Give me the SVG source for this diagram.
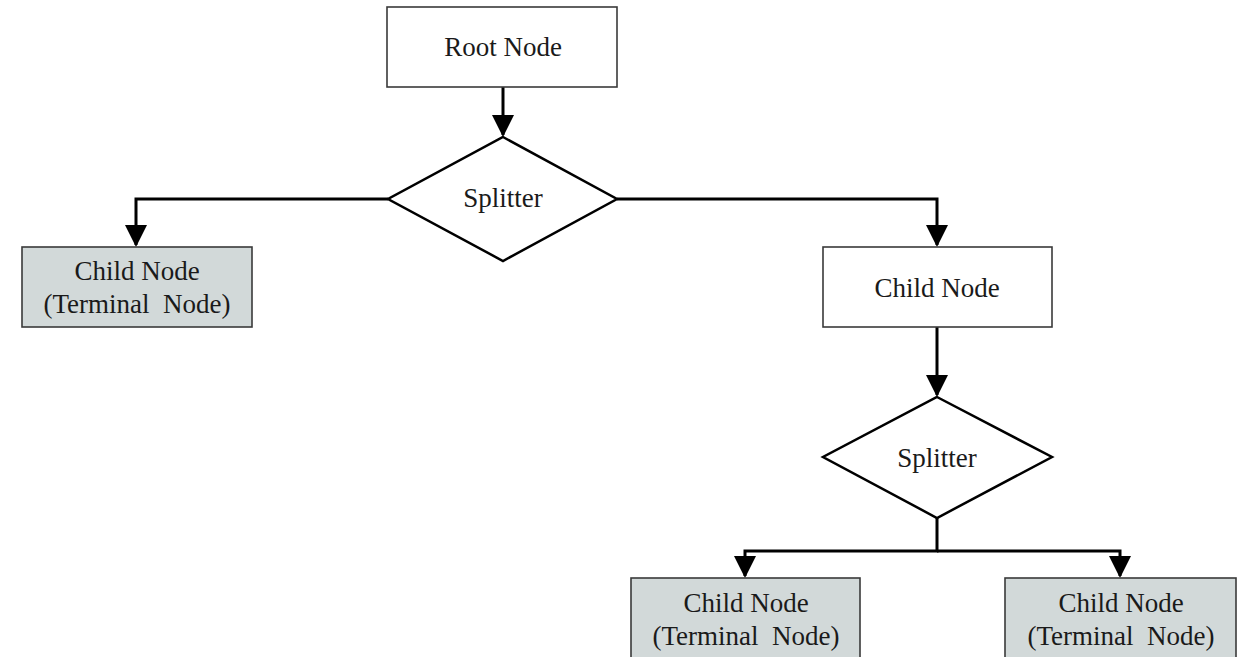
<svg xmlns="http://www.w3.org/2000/svg" width="1243" height="657" viewBox="0 0 1243 657">
<style>
.box{fill:#ffffff;stroke:#3a3a3a;stroke-width:1.6}
.term{fill:#d2d9d9;stroke:#3a3a3a;stroke-width:1.6}
.dia{fill:#ffffff;stroke:#000;stroke-width:2.5;stroke-linejoin:miter}
.lbl{font-family:"Liberation Serif","Times New Roman",serif;font-size:27px;fill:#1a1a1a;text-anchor:middle;white-space:pre}
.conn{fill:none;stroke:#000;stroke-width:3}
</style>
<defs>
<marker id="arr" viewBox="0 0 22 22" refX="20" refY="11" markerWidth="22" markerHeight="22" markerUnits="userSpaceOnUse" orient="auto">
<path d="M0,0 L22,11 L0,22 z" fill="#000"/>
</marker>
</defs>
<rect width="1243" height="657" fill="#ffffff"/>
<g id="connectors">
<path class="conn" d="M503,87 V135" marker-end="url(#arr)"/>
<path class="conn" d="M388,199 H136 V245" marker-end="url(#arr)"/>
<path class="conn" d="M617,199 H937 V245" marker-end="url(#arr)"/>
<path class="conn" d="M937,327 V395" marker-end="url(#arr)"/>
<path class="conn" d="M937,518 V551 H745 V576" marker-end="url(#arr)"/>
<path class="conn" d="M937,551 H1120 V576" marker-end="url(#arr)"/>
</g>
<g id="root">
<rect class="box" x="387" y="7" width="230" height="80"/>
<text class="lbl" x="503" y="56">Root Node</text>
</g>
<g id="splitter1">
<polygon class="dia" points="503,137 617,199 503,261 388,199"/>
<text class="lbl" x="503" y="207">Splitter</text>
</g>
<g id="terminal1">
<rect class="term" x="22" y="247" width="230" height="80"/>
<text class="lbl" x="137" y="280">Child Node</text>
<text class="lbl" x="137" y="313">(Terminal  Node)</text>
</g>
<g id="child">
<rect class="box" x="823" y="247" width="229" height="80"/>
<text class="lbl" x="937" y="297">Child Node</text>
</g>
<g id="splitter2">
<polygon class="dia" points="937,397 1052,457 937,518 823,457"/>
<text class="lbl" x="937" y="467">Splitter</text>
</g>
<g id="terminal2">
<rect class="term" x="631" y="578" width="229" height="90"/>
<text class="lbl" x="746" y="612">Child Node</text>
<text class="lbl" x="746" y="645">(Terminal  Node)</text>
</g>
<g id="terminal3">
<rect class="term" x="1005" y="578" width="231" height="90"/>
<text class="lbl" x="1121" y="612">Child Node</text>
<text class="lbl" x="1121" y="645">(Terminal  Node)</text>
</g>
</svg>
